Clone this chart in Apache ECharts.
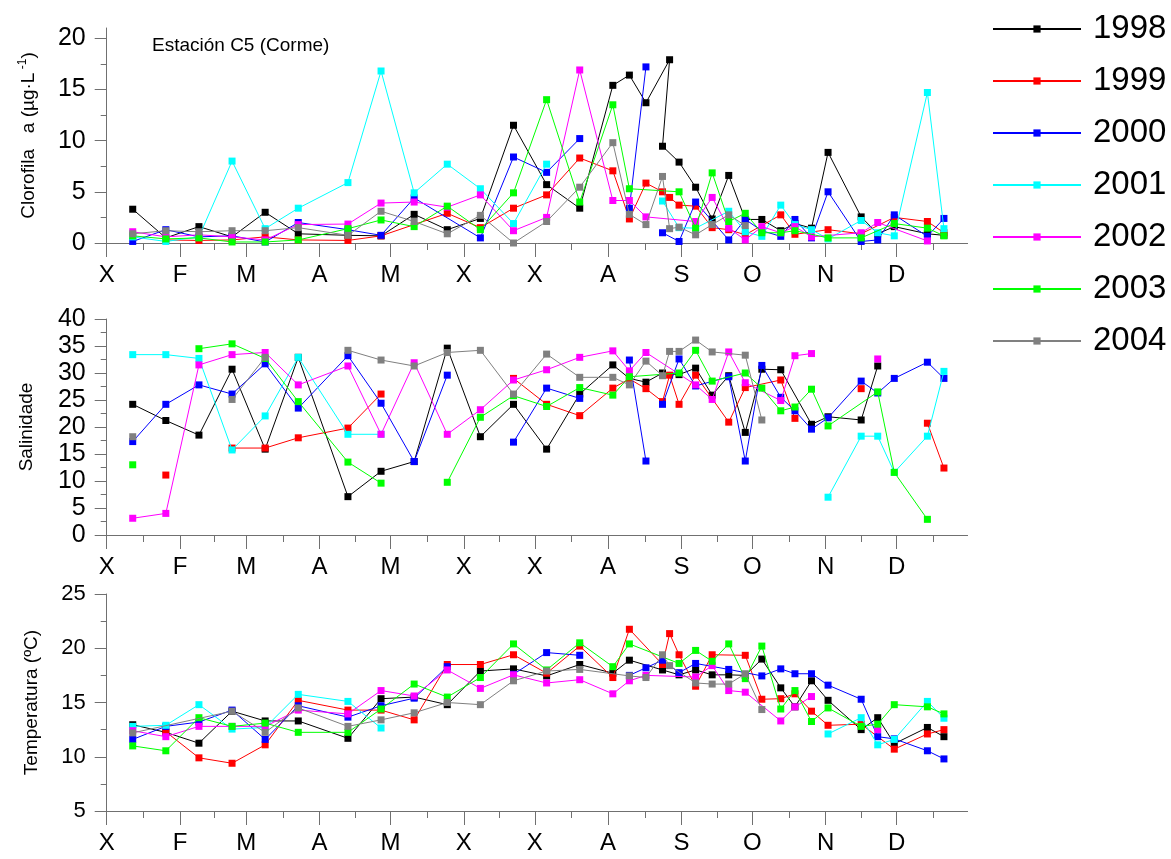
<!DOCTYPE html>
<html>
<head>
<meta charset="utf-8">
<script src="https://cdn.jsdelivr.net/npm/echarts@6/dist/echarts.min.js"></script>
<style>
  html, body { margin: 0; padding: 0; background: #fff; }
  #chart { width: 1171px; height: 859px; }
</style>
</head>
<body>
<div id="chart"></div>
<script>
// Month letters (Galician initials) and day-of-year positions of each month start / mid-month
const months = ['X', 'F', 'M', 'A', 'M', 'X', 'X', 'A', 'S', 'O', 'N', 'D'];
const monthStart = [0, 31, 59, 90, 120, 151, 181, 212, 243, 273, 304, 334];
const monthMid = [15.5, 45.5, 74.5, 105, 135.5, 166, 196.5, 227.5, 258, 288.5, 319, 349.5];
const years = ['1998', '1999', '2000', '2001', '2002', '2003', '2004'];

// Y-axis tick values of each panel
const chlTicks = [0, 5, 10, 15, 20];
const salTicks = [0, 5, 10, 15, 20, 25, 30, 35, 40];
const tmpTicks = [5, 10, 15, 20, 25];

// Chlorophyll a (µg·L-1): [day of year, value]; null = gap in the line
const chl1998 = [[11,3.3],[25,0.5],[39,1.6],[53,0.6],[67,3.0],[81,0.9],[102,0.75],[116,0.7],[130,2.8],[144,1.3],[158,2.4],[172,11.5],[186,5.7],[200,3.4],[214,15.4],[221,16.4],[228,13.7],[238,17.9],[235,9.45],[242,7.9],[249,5.45],[256,2.35],[263,6.6],[270,2.3],[277,2.3],[285,1.2],[291,1.9],[298,1.45],[305,8.85],[319,2.55],[326,0.9],[333,1.6],[347,0.9],[354,0.75]];
const chl1999 = [[25,0.3],[39,0.25],[53,0.3],[67,0.6],[81,0.3],[102,0.25],[116,0.7],[144,2.9],[158,1.5],[172,3.4],[186,4.7],[200,8.3],[214,7.05],[221,2.35],[228,5.85],[235,5.0],[238,4.45],[242,3.7],[249,3.6],[256,1.5],[263,1.3],[270,0.8],[285,2.75],[291,0.85],[305,1.3],[319,0.9],[333,2.5],[347,2.1],[354,1.0]];
const chl2000 = [[11,0.15],[25,1.3],[39,0.6],[53,0.7],[67,0.1],[81,2.0],[102,1.3],[116,0.75],[130,4.4],[158,0.5],[172,8.4],[186,6.9],[200,10.2],null,[221,3.4],[228,17.2],null,[235,1.0],[242,0.15],[249,4.0],[263,0.3],[270,2.3],[277,1.2],[285,0.65],[291,2.3],[298,0.5],[305,5.0],[319,0.15],[326,0.3],[333,2.75],[347,0.65],[354,2.4]];
const chl2001 = [[11,0.6],[25,0.15],[39,0.6],[53,8.0],[67,1.4],[81,3.4],[102,5.9],[116,16.8],[130,4.9],[144,7.7],[158,5.3],[172,1.9],[186,7.7],null,[235,4.1],[242,1.5],[249,1.45],[263,3.1],[270,1.1],[277,0.65],[285,3.7],[291,1.8],[298,1.3],[305,0.4],[319,2.2],[326,1.0],[333,0.7],[347,14.7],[354,1.4]];
const chl2002 = [[11,1.1],[25,0.6],[39,0.8],[53,0.6],[67,0.3],[81,1.8],[102,1.85],[116,3.9],[130,4.0],[144,3.5],[158,4.7],[172,1.2],[186,2.5],[200,16.9],[214,4.15],[221,4.15],[228,2.55],[249,2.1],[256,4.45],[263,1.45],[270,0.3],[277,1.6],[285,1.0],[291,1.6],[298,0.6],[319,1.0],[326,2.0],[347,0.2]];
const chl2003 = [[11,0.7],[25,0.4],[39,0.5],[53,0.1],[67,0.1],[81,0.3],[102,1.4],[116,2.25],[130,1.6],[144,3.6],[158,1.3],[172,4.9],[186,14.0],[200,4.0],[214,13.5],[221,5.3],[242,5.0],[249,1.45],[256,6.85],[263,2.1],[270,2.9],[277,1.0],[285,1.0],[291,1.2],[305,0.5],[319,0.5],[333,1.9],[347,1.45],[354,0.7]];
const chl2004 = [[11,0.9],[25,1.2],[39,1.1],[53,1.2],[67,1.2],[81,1.5],[102,0.75],[116,3.1],[130,2.1],[144,0.9],[158,2.7],[172,0.0],[186,2.1],[200,5.45],[214,9.8],[221,2.8],[228,1.8],[235,6.5],[238,1.4],[242,1.55],[249,0.8],[256,1.8],[263,2.75],[270,1.7]];

// Salinity
const sal1998 = [[11,24.2],[25,21.2],[39,18.5],[53,30.7],[67,15.9],[81,32.9],[102,7.1],[116,11.8],[130,13.6],[144,34.6],[158,18.2],[172,24.2],[186,15.9],[200,26.1],[214,31.5],[221,29.0],[228,28.3],[235,30.0],[242,29.7],[249,30.9],[256,25.9],[263,29.5],[270,19.0],[277,30.7],[285,30.6],[298,20.5],[305,21.9],[319,21.3],[326,31.3]];
const sal1999 = [[25,11.1],null,[53,16.1],[67,16.1],[81,18.0],[102,19.8],[116,26.1],null,[172,29.0],[186,24.2],[200,22.1],[214,27.2],[221,28.9],[228,27.1],[235,24.7],[238,29.6],[242,24.2],[249,29.6],[263,20.9],[270,27.3],[285,28.7],[291,21.6],null,[319,27.1],null,[347,20.7],[354,12.4]];
const sal2000 = [[11,17.3],[25,24.2],[39,27.8],[53,26.1],[67,31.7],[81,23.5],[102,33.2],[116,24.4],[130,13.6],[144,29.6],null,[172,17.2],[186,27.2],[200,25.3],null,[221,32.4],[228,13.7],null,[235,24.2],[242,32.6],[249,27.6],[263,29.3],[270,13.7],[277,31.4],[285,25.5],[291,23.0],[298,19.6],[305,21.7],[319,28.5],[326,26.3],[333,29.0],[347,32.0],[354,29.0]];
const sal2001 = [[11,33.4],[25,33.4],[39,32.7],[53,15.75],[67,22.05],[81,32.9],[102,18.65],[116,18.65],null,[305,7.0],[319,18.3],[326,18.3],[333,11.6],[347,18.3],[354,30.3]];
const sal2002 = [[11,3.1],[25,4.0],[39,31.5],[53,33.4],[67,33.8],[81,27.8],[102,31.3],[116,18.65],[130,31.9],[144,18.65],[158,23.2],[172,28.7],[186,30.6],[200,32.9],[214,34.1],[221,30.4],[228,33.8],[249,27.8],[256,25.1],[263,33.9],[270,28.2],[285,24.9],[291,33.2],[298,33.6],null,[326,32.6]];
const sal2003 = [[11,13.0],null,[39,34.5],[53,35.4],[67,32.7],[81,24.7],[102,13.5],[116,9.6],null,[144,9.76],[158,21.8],[172,25.8],[186,23.8],[200,27.3],[214,25.9],[221,29.3],[242,30.0],[249,34.2],[256,28.5],[270,30.0],[277,27.2],[285,23.0],[291,23.7],[298,27.0],[305,20.2],[326,26.5],[333,11.6],[347,2.9]];
const sal2004 = [[11,18.2],null,[53,25.1],[67,32.9],null,[102,34.2],[116,32.4],[130,31.3],[144,33.8],[158,34.2],[172,26.1],[186,33.5],[200,29.2],[214,29.2],[221,27.8],[228,32.2],[235,29.5],[238,34.0],[242,34.0],[249,36.1],[256,33.9],[270,33.3],[277,21.3]];

// Temperature (ºC)
const tmp1998 = [[11,12.95],[25,12.25],[39,11.25],[53,14.2],[67,13.3],[81,13.3],[102,11.7],[116,15.35],[130,15.5],[144,14.8],[158,17.9],[172,18.1],[186,17.45],[200,18.5],[214,17.7],[221,18.9],[235,18.0],[242,17.55],[249,18.0],[256,17.55],[263,17.55],[270,17.5],[277,19.0],[285,16.35],[291,14.6],[298,17.0],[305,15.2],[319,12.5],[326,13.6],[333,11.2],[347,12.7],[354,11.85]];
const tmp1999 = [[25,12.3],[39,9.9],[53,9.4],[67,11.1],[81,15.2],[102,14.3],[116,14.3],[130,13.4],[144,18.5],[158,18.5],[172,19.4],[186,17.7],[200,20.2],[214,17.3],[221,21.75],[235,18.5],[238,21.35],[242,19.4],[249,16.5],[256,19.4],[270,19.35],[277,15.3],[285,15.35],[291,15.8],[298,14.2],[305,12.9],[319,13.0],[333,10.7],[347,12.1],[354,12.5]];
const tmp2000 = [[11,11.6],[25,12.8],[39,13.2],[53,14.3],[67,11.6],[81,14.7],[102,13.65],[116,14.7],[130,15.4],[144,18.3],null,[172,17.6],[186,19.6],[200,19.35],null,[221,17.5],[228,18.2],[235,18.9],[242,17.75],[249,18.6],[263,18.05],[277,17.45],[285,18.1],[291,17.65],[298,17.65],[305,16.6],[319,15.3],[326,11.85],[333,11.65],[347,10.55],[354,9.8]];
const tmp2001 = [[11,12.8],[25,12.9],[39,14.8],[53,12.55],[67,12.7],[81,15.75],[102,15.1],[116,12.65],null,[305,12.1],[319,13.6],[326,11.1],[333,11.6],[347,15.1],[354,13.55]];
const tmp2002 = [[11,12.4],[25,11.85],[39,12.8],[53,12.8],[67,12.8],[81,14.3],[102,13.95],[116,16.1],[130,15.6],[144,18.0],[158,16.3],[172,17.55],[186,16.8],[200,17.1],[214,15.8],[221,17.0],[228,17.5],[249,17.35],[256,18.4],[263,16.1],[270,15.95],[285,13.3],[291,14.6],[298,15.55],null,[326,12.5]];
const tmp2003 = [[11,11.0],[25,10.55],[39,13.6],[53,12.8],[67,13.1],[81,12.25],[102,12.25],[116,14.4],[130,16.7],[144,15.5],[158,17.3],[172,20.4],[186,18.0],[200,20.5],[214,18.3],[221,20.4],[242,18.6],[249,19.8],[256,18.8],[263,20.4],[270,17.2],[277,20.2],[285,14.4],[291,16.1],[298,13.25],[305,14.5],[319,12.8],[326,13.0],[333,14.8],[347,14.6],[354,13.95]];
const tmp2004 = [[11,12.2],[53,14.2],[67,12.25],[81,14.5],[102,12.8],[116,13.4],[130,14.05],[144,15.0],[158,14.8],[172,17.0],[186,17.9],[200,18.05],[221,17.45],[228,17.3],[235,19.4],[238,18.4],[249,16.8],[256,16.7],[263,16.7],[270,17.65],[277,14.35]];

const chlData = [chl1998, chl1999, chl2000, chl2001, chl2002, chl2003, chl2004];
const salData = [sal1998, sal1999, sal2000, sal2001, sal2002, sal2003, sal2004];
const tmpData = [tmp1998, tmp1999, tmp2000, tmp2001, tmp2002, tmp2003, tmp2004];

const colors = ['#000000', '#ff0000', '#0000ff', '#00ffff', '#ff00ff', '#00ff00', '#808080'];
const FONT = "'Liberation Sans', Arial, sans-serif";
const AXIS = '#707070';

const minorOf = ticks => ticks.slice(0, -1).map(v => v + 2.5);

const panels = [
  { top: 28, height: 215, min: 0, max: 21, ticks: chlTicks, data: chlData, labelSize: 25,
    name: '{t|Clorofila   a (µg·L}{s| -1}{t|)}', nameGap: 66 },
  { top: 319, height: 216, min: 0, max: 40, ticks: salTicks, data: salData, labelSize: 25,
    name: '{t|Salinidade}', nameGap: 68 },
  { top: 594, height: 217, min: 5, max: 25, ticks: tmpTicks, data: tmpData, labelSize: 22,
    name: '{t|Temperatura (ºC)}', nameGap: 63 }
];

const grid = [], xAxis = [], yAxis = [], series = [];
panels.forEach((p, k) => {
  grid.push({ left: 106.7, width: 860.9, top: p.top, height: p.height });
  // major month ticks with letters
  xAxis.push({
    type: 'value', gridIndex: k, position: 'bottom', min: 0, max: 364,
    axisLine: { show: true, onZero: false, lineStyle: { color: AXIS, width: 1 } },
    axisTick: { show: true, customValues: monthStart, length: 14, lineStyle: { color: AXIS } },
    axisLabel: { show: true, customValues: monthStart, margin: 20, fontSize: 24, color: '#000', fontFamily: FONT,
      formatter: v => months[monthStart.indexOf(v)] },
    splitLine: { show: false }
  });
  // mid-month minor ticks
  xAxis.push({
    type: 'value', gridIndex: k, position: 'bottom', min: 0, max: 364,
    axisLine: { show: false, onZero: false },
    axisTick: { show: true, customValues: monthMid, length: 7, lineStyle: { color: AXIS } },
    axisLabel: { show: false }, splitLine: { show: false }
  });
  yAxis.push({
    type: 'value', gridIndex: k, position: 'left', min: p.min, max: p.max,
    axisLine: { show: true, onZero: false, lineStyle: { color: AXIS, width: 1 } },
    axisTick: { show: true, customValues: p.ticks, length: 12, lineStyle: { color: AXIS } },
    axisLabel: { show: true, customValues: p.ticks, margin: 21, fontSize: p.labelSize, color: '#000', fontFamily: FONT },
    splitLine: { show: false },
    name: p.name, nameLocation: 'middle', nameGap: p.nameGap, nameRotate: 90,
    nameTextStyle: {
      color: '#000', fontFamily: FONT,
      rich: {
        t: { fontSize: 19, fontFamily: FONT, color: '#000', lineHeight: 24 },
        s: { fontSize: 12, fontFamily: FONT, color: '#000', verticalAlign: 'top', lineHeight: 24 }
      }
    }
  });
  yAxis.push({
    type: 'value', gridIndex: k, position: 'left', min: p.min, max: p.max,
    axisLine: { show: false, onZero: false },
    axisTick: { show: true, customValues: minorOf(p.ticks), length: 6, lineStyle: { color: AXIS } },
    axisLabel: { show: false }, splitLine: { show: false }
  });
  p.data.forEach((arr, i) => {
    series.push({
      type: 'line', name: years[i], xAxisIndex: k * 2, yAxisIndex: k * 2,
      data: arr.map(pt => pt === null ? ['-', '-'] : pt),
      symbol: 'rect', symbolSize: 7, showAllSymbol: true, connectNulls: false,
      color: colors[i],
      lineStyle: { width: 1, color: colors[i] },
      itemStyle: { color: colors[i] },
      emphasis: { disabled: true },
      z: 2 + i
    });
  });
});

const chart = echarts.init(document.getElementById('chart'), null, { renderer: 'canvas' });
chart.setOption({
  animation: false,
  backgroundColor: '#ffffff',
  title: {
    text: 'Estación C5 (Corme)', left: 147, top: 31,
    textStyle: { fontSize: 19, fontWeight: 'normal', color: '#000', fontFamily: FONT }
  },
  legend: {
    data: years, orient: 'vertical', left: 987, top: 7,
    itemWidth: 88, itemHeight: 9, itemGap: 18,
    textStyle: { fontSize: 33, lineHeight: 34, color: '#000', fontFamily: FONT, padding: [0, 0, 0, 7] },
    selectedMode: false
  },
  grid, xAxis, yAxis, series
});
</script>
</body>
</html>
